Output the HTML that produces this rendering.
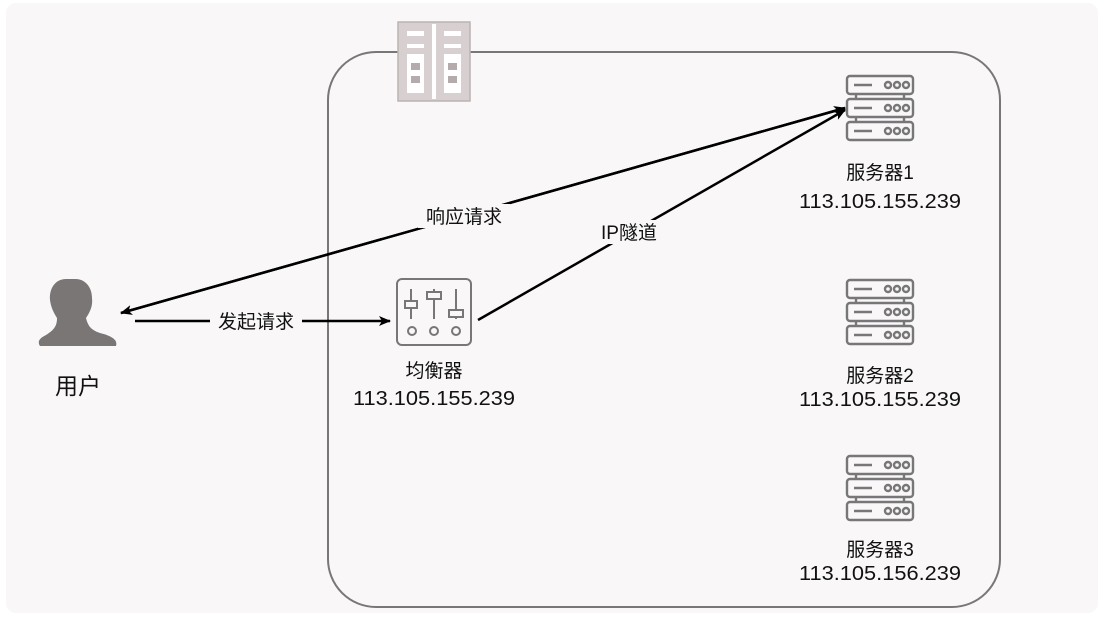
<!DOCTYPE html>
<html><head><meta charset="utf-8"><style>
html,body{margin:0;padding:0;background:#fff;}
svg text{font-family:"Liberation Sans","Noto Sans CJK SC",sans-serif;fill:#111;}
</style></head><body>
<svg width="1106" height="618" viewBox="0 0 1106 618" xmlns="http://www.w3.org/2000/svg">
<defs>
<marker id="ah" markerWidth="12" markerHeight="10" refX="11" refY="5" orient="auto" markerUnits="userSpaceOnUse">
<path d="M0,0 L12,5 L0,10 L3,5 Z" fill="#000"/>
</marker>
<g id="srv" fill="none" stroke="#777" stroke-width="2.4">
<rect x="1" y="1" width="66" height="18" rx="3"/>
<rect x="1" y="24" width="66" height="18" rx="3"/>
<rect x="1" y="47" width="66" height="18" rx="3"/>
<line x1="8" y1="10" x2="26" y2="10"/><line x1="8" y1="33" x2="26" y2="33"/><line x1="8" y1="56" x2="26" y2="56"/>
<line x1="10" y1="19" x2="10" y2="24"/><line x1="58" y1="19" x2="58" y2="24"/>
<line x1="10" y1="42" x2="10" y2="47"/><line x1="58" y1="42" x2="58" y2="47"/>
<circle cx="42" cy="10" r="3"/><circle cx="51" cy="10" r="3"/><circle cx="60" cy="10" r="3"/>
<circle cx="42" cy="33" r="3"/><circle cx="51" cy="33" r="3"/><circle cx="60" cy="33" r="3"/>
<circle cx="42" cy="56" r="3"/><circle cx="51" cy="56" r="3"/><circle cx="60" cy="56" r="3"/>
</g>
</defs>
<rect x="6" y="3" width="1092" height="610" rx="10" fill="#f9f7f8"/>
<rect x="328" y="52" width="672" height="555" rx="48" fill="none" stroke="#777" stroke-width="2"/>
<rect x="398" y="22" width="72" height="79" fill="#d8d0d0" stroke="#bcb3b3" stroke-width="1.5"/>
<rect x="432" y="24" width="4" height="75" fill="#fff"/>
<g fill="#fff"><rect x="407" y="31" width="17" height="5"/><rect x="407" y="44" width="17" height="4"/>
<rect x="444" y="31" width="17" height="5"/><rect x="444" y="44" width="17" height="4"/>
<rect x="407" y="54" width="17" height="39"/><rect x="444" y="54" width="17" height="39"/></g>
<g fill="#b4acac"><rect x="411" y="63" width="9" height="7"/><rect x="411" y="76" width="9" height="7"/>
<rect x="448" y="63" width="9" height="7"/><rect x="448" y="76" width="9" height="7"/></g>
<path d="M66,279 C55,279 49,289 50,300 C51,308 54,313 57,318 C57,326 54,330 46,335 C40,338 37,341 40,346 L116,346 C118,340 112,336 100,333 C91,330 88,326 86,318 C90,312 93,306 92,298 C92,286 84,279 76,279 Z" fill="#7a7676"/>
<text x="78" y="394" font-size="23" text-anchor="middle">用户</text>
<g fill="none" stroke="#777" stroke-width="2">
<rect x="397" y="279" width="74" height="66" rx="5"/>
<line x1="411" y1="289" x2="411" y2="319"/><rect x="405" y="301" width="12" height="7" fill="#f9f7f8"/>
<line x1="434" y1="289" x2="434" y2="319"/><rect x="427" y="292" width="14" height="7" fill="#f9f7f8"/>
<line x1="456" y1="289" x2="456" y2="319"/><rect x="449" y="310" width="14" height="7" fill="#f9f7f8"/>
<circle cx="412" cy="331" r="4"/><circle cx="434" cy="331" r="4"/><circle cx="456" cy="331" r="4"/>
</g>
<text x="434" y="377" font-size="19" text-anchor="middle">均衡器</text>
<text x="353" y="405" font-size="20" textLength="162" lengthAdjust="spacingAndGlyphs">113.105.155.239</text>
<use href="#srv" x="846" y="75"/>
<use href="#srv" x="846" y="279"/>
<use href="#srv" x="846" y="455"/>
<text x="880" y="179" font-size="19" text-anchor="middle">服务器1</text>
<text x="799" y="208" font-size="20" textLength="162" lengthAdjust="spacingAndGlyphs">113.105.155.239</text>
<text x="880" y="382" font-size="19" text-anchor="middle">服务器2</text>
<text x="799" y="406" font-size="20" textLength="162" lengthAdjust="spacingAndGlyphs">113.105.155.239</text>
<text x="880" y="556" font-size="19" text-anchor="middle">服务器3</text>
<text x="799" y="580" font-size="20" textLength="162" lengthAdjust="spacingAndGlyphs">113.105.156.239</text>
<g stroke="#000" stroke-width="2.5" fill="none">
<line x1="845" y1="108" x2="121" y2="313" marker-end="url(#ah)"/>
<line x1="121" y1="313" x2="845" y2="108" marker-end="url(#ah)"/>
<line x1="478" y1="320" x2="845" y2="110" marker-end="url(#ah)"/>
<line x1="135" y1="321" x2="390" y2="321" marker-end="url(#ah)"/>
</g>
<rect x="418" y="204" width="92" height="24" fill="#f9f7f8"/>
<text x="464" y="223" font-size="19" text-anchor="middle">响应请求</text>
<rect x="594" y="220" width="70" height="24" fill="#f9f7f8"/>
<text x="629" y="239" font-size="19" text-anchor="middle">IP隧道</text>
<rect x="210" y="310" width="92" height="24" fill="#f9f7f8"/>
<text x="256" y="328" font-size="19" text-anchor="middle">发起请求</text>
</svg>
</body></html>
